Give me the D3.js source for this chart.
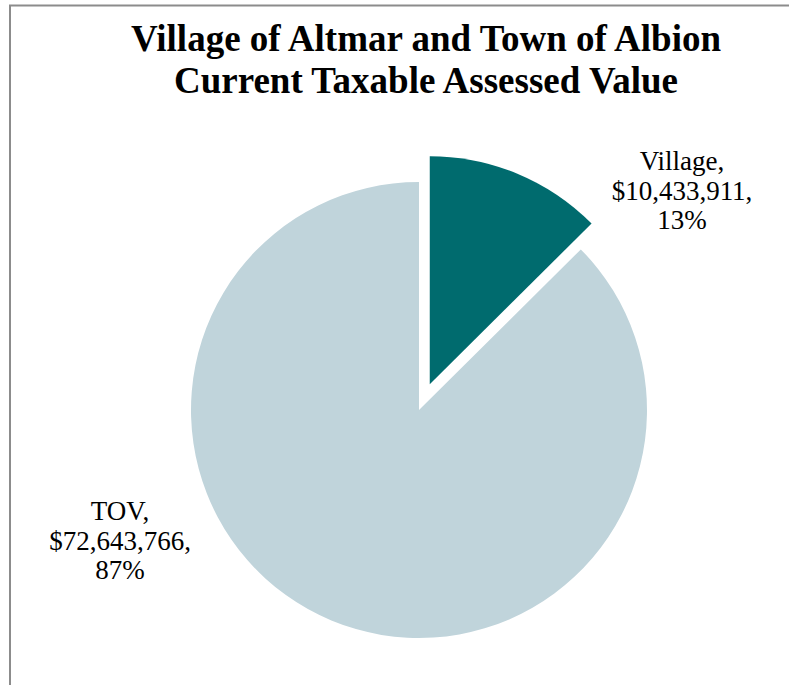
<!DOCTYPE html>
<html>
<head>
<meta charset="utf-8">
<script src="https://cdn.jsdelivr.net/npm/d3@7"></script>
<style>
  html, body { margin: 0; padding: 0; background: #fff; }
  svg { display: block; }
</style>
</head>
<body>
<div id="view"></div>
<script>
// data
const categories = ["Village", "TOV"];
const values = [10433911, 72643766];
const colors = ["#006B6E", "#C0D4DB"];
const titleLines = ["Village of Altmar and Town of Albion", "Current Taxable Assessed Value"];

const W = 789, H = 685;
const cx = 419, cy = 410, R = 228;
const explode = 28;

const svg = d3.select("#view").append("svg")
  .attr("width", W).attr("height", H);

// frame (clipped at right/bottom like the source)
svg.append("path")
  .attr("d", `M10,${H} V5.5 H${W}`)
  .attr("fill", "none")
  .attr("stroke", "#8c8c8c")
  .attr("stroke-width", 2);

// title
svg.append("g").selectAll("text")
  .data(titleLines)
  .join("text")
  .attr("x", 426)
  .attr("y", (d, i) => 51 + i * 42)
  .attr("text-anchor", "middle")
  .style("font-family", "'Liberation Serif', 'Times New Roman', serif")
  .style("font-weight", "bold")
  .style("font-size", "37px")
  .attr("fill", "#000")
  .text(d => d);

const rows = categories.map((c, i) => ({ name: c, value: values[i], color: colors[i] }));
const total = d3.sum(values);

const pie = d3.pie().value(d => d.value).sort(null);
const arc = d3.arc().innerRadius(0).outerRadius(R);
const arcs = pie(rows);

const g = svg.append("g").attr("transform", `translate(${cx},${cy})`);

g.selectAll("path.slice")
  .data(arcs)
  .join("path")
  .attr("class", "slice")
  .attr("d", arc)
  .attr("fill", d => d.data.color)
  .attr("transform", d => {
    if (d.data.name !== "Village") return null;
    const a = (d.startAngle + d.endAngle) / 2;
    return `translate(${Math.sin(a) * explode},${-Math.cos(a) * explode})`;
  });

// data labels
const fmt = d3.format(",");
const labelPos = { Village: [682, 170], TOV: [120, 520] };
const labels = svg.append("g")
  .style("font-family", "'Liberation Serif', 'Times New Roman', serif")
  .style("font-size", "27px")
  .attr("fill", "#000");

arcs.forEach(d => {
  const [lx, ly] = labelPos[d.data.name];
  const pct = Math.round(d.data.value / total * 100) + "%";
  const lines = [d.data.name + ",", "$" + fmt(d.data.value) + ",", pct];
  labels.append("text")
    .attr("text-anchor", "middle")
    .selectAll("tspan")
    .data(lines)
    .join("tspan")
    .attr("x", lx)
    .attr("y", (t, i) => ly + i * 29.5)
    .text(t => t);
});
</script>
</body>
</html>
